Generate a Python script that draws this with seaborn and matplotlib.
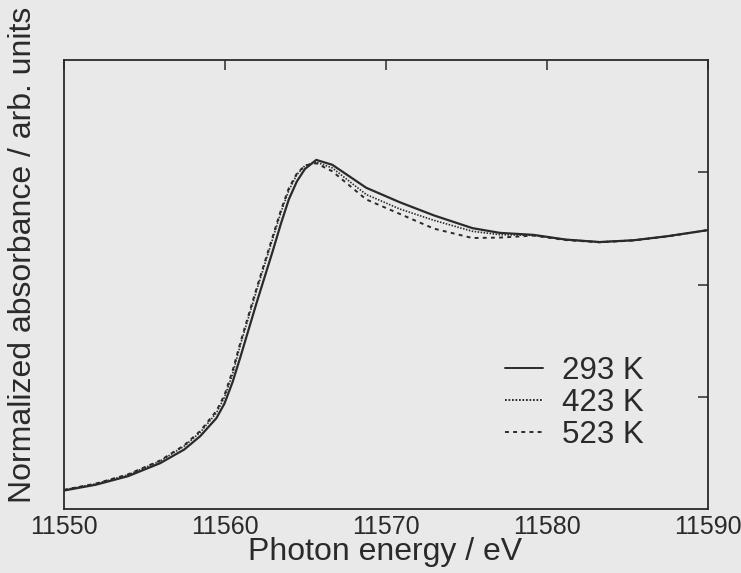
import numpy as np
import pandas as pd
import matplotlib
matplotlib.use("Agg")
import matplotlib.pyplot as plt
import seaborn as sns

# ---- data ----
energy = [11550, 11552, 11554, 11556, 11557.5, 11558.5, 11559.5, 11560, 11560.5,
          11561, 11562, 11563, 11563.5, 11564, 11564.5, 11565, 11565.7, 11566.7,
          11568.8, 11570.9, 11573, 11575.4, 11577.1, 11579.2, 11581.2, 11583.3,
          11585.4, 11587.5, 11590]

abs_293 = [0.082, 0.108, 0.146, 0.204, 0.265, 0.325, 0.405, 0.470, 0.565,
           0.680, 0.920, 1.150, 1.270, 1.380, 1.460, 1.515, 1.555, 1.533,
           1.431, 1.366, 1.308, 1.251, 1.230, 1.221, 1.200, 1.189,
           1.197, 1.215, 1.242]

abs_423 = [0.085, 0.112, 0.152, 0.213, 0.280, 0.342, 0.428, 0.498, 0.600,
           0.735, 0.975, 1.205, 1.320, 1.420, 1.490, 1.530, 1.545, 1.519,
           1.401, 1.336, 1.286, 1.237, 1.222, 1.219, 1.200, 1.190,
           1.197, 1.215, 1.242]

abs_523 = [0.085, 0.113, 0.154, 0.216, 0.284, 0.348, 0.437, 0.508, 0.615,
           0.745, 0.985, 1.215, 1.330, 1.430, 1.495, 1.530, 1.540, 1.504,
           1.379, 1.314, 1.249, 1.207, 1.209, 1.218, 1.198, 1.188,
           1.196, 1.214, 1.242]

series_labels = ["293 K", "423 K", "523 K"]
x_ticks = [11550, 11560, 11570, 11580, 11590]
y_ticks = [0.5, 1.0, 1.5]

df = pd.concat([
    pd.DataFrame({"energy": energy, "absorbance": vals, "T": lab})
    for vals, lab in zip([abs_293, abs_423, abs_523], series_labels)
], ignore_index=True)

# ---- style ----
sns.set_theme(style="white")
plt.rcParams["font.family"] = ["Liberation Sans", "DejaVu Sans"]
bg = "#e9e9e9"
ink = "#2a2a2a"

fig = plt.figure(figsize=(7.41, 5.73), dpi=100, facecolor=bg)
ax = fig.add_axes([63.5 / 741, 1 - 509 / 573, 644 / 741, 449 / 573])
ax.set_facecolor(bg)

sns.lineplot(data=df, x="energy", y="absorbance", hue="T", style="T",
             palette={k: ink for k in series_labels},
             dashes={"293 K": "", "423 K": (0.9, 0.9), "523 K": (2.0, 2.2)},
             linewidth=1.4, ax=ax, legend=True, sort=False)

for line, lw in zip(ax.get_lines()[:3], [1.6, 1.2, 1.4]):
    line.set_linewidth(lw)

ax.set_xlim(11550, 11590)
ax.set_ylim(0, 2.0)
ax.set_xticks(x_ticks)
ax.set_yticks(y_ticks)
ax.set_yticklabels([])
ax.tick_params(axis="both", which="major", direction="in", length=7.5, width=1.1,
               color=ink, top=True, right=True, labelsize=18, pad=4, labelcolor=ink)

for sp in ax.spines.values():
    sp.set_color(ink)
    sp.set_linewidth(1.3)

ax.set_xlabel("Photon energy / eV", fontsize=23, color=ink)
ax.xaxis.set_label_coords(0.5, -0.063)
ax.set_ylabel("Normalized absorbance / arb. units", fontsize=23, color=ink)
ax.yaxis.set_label_coords(-0.040, 0.566)

handles, labels = ax.get_legend_handles_labels()
leg = ax.legend(handles, labels, loc="upper left",
                bbox_to_anchor=(505 / 741, 1 - 356 / 573), bbox_transform=fig.transFigure,
                frameon=False, fontsize=22.5, handlelength=1.22, handletextpad=0.6,
                labelspacing=0.07, borderpad=0, borderaxespad=0)
for t in leg.get_texts():
    t.set_color(ink)

fig.savefig("out.png", dpi=100, facecolor=bg)
